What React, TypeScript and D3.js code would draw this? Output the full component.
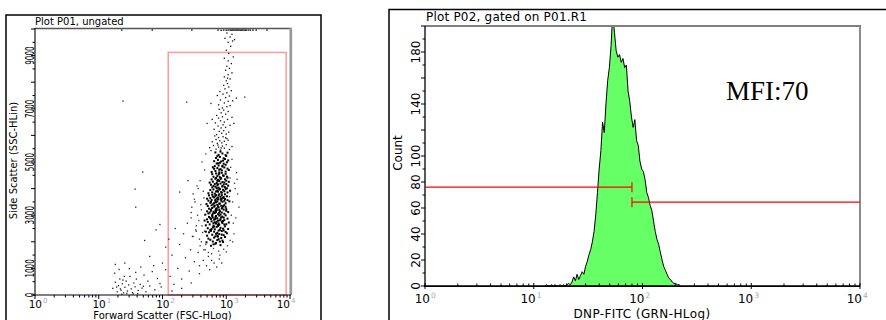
import React from "react";
import * as d3 from "d3";

// ---------------- Plot P01 data: events as [log10(FSC) x 100, SSC] ----------------
const coreEvents: [number, number][] = [
  [276,1850],[283,1925],[291,1875],[279,2010],[286,2065],[295,1990],[272,2120],[281,2155],[288,2095],[298,2180],[284,1960],[292,2140],[275,2075],[287,2195],[280,1905],[294,2045],[269,1980],[290,2010],
  [270,2230],[278,2265],[283,2205],[289,2290],[296,2250],[301,2320],[273,2355],[281,2380],[286,2335],[293,2405],[299,2370],[275,2445],[282,2470],[288,2420],[295,2495],[271,2510],[279,2545],[285,2560],[291,2525],[298,2580],[284,2300],[277,2480],[287,2595],[293,2270],[276,2410],[290,2450],[281,2570],[296,2430],[268,2380],[303,2480],[286,2230],
  [268,2620],[274,2655],[280,2610],[284,2685],[289,2640],[294,2705],[300,2660],[304,2725],[271,2745],[277,2770],[282,2735],[287,2795],[293,2760],[297,2815],[270,2845],[276,2860],[281,2830],[286,2885],[291,2850],[296,2905],[302,2870],[273,2935],[278,2965],[283,2920],[289,2985],[294,2945],[299,2995],[280,2700],[285,2750],[290,2810],[275,2890],[284,2970],[288,2690],[295,2780],[279,2910],[287,2630],[266,2800],[292,2920],[283,2860],[297,2650],
  [267,3020],[272,3065],[278,3010],[282,3085],[287,3040],[293,3100],[297,3055],[303,3115],[270,3145],[276,3170],[280,3130],[285,3195],[290,3150],[296,3210],[300,3165],[273,3245],[278,3270],[284,3230],[288,3295],[293,3255],[299,3310],[271,3345],[277,3370],[281,3320],[286,3390],[292,3355],[297,3380],[279,3060],[284,3125],[289,3205],[294,3285],[282,3360],[287,3335],[274,3100],[291,3020],[300,3230],[285,3260],[276,3210],[289,3090],[283,3180],[295,3340],
  [269,3420],[275,3465],[279,3410],[284,3485],[290,3440],[294,3505],[299,3450],[305,3520],[272,3545],[277,3570],[283,3530],[287,3595],[292,3550],[298,3610],[302,3565],[275,3645],[281,3670],[285,3630],[291,3690],[295,3655],[301,3710],[273,3745],[278,3770],[283,3725],[289,3790],[293,3755],[298,3785],[281,3455],[286,3520],[291,3600],[296,3680],[284,3760],[289,3430],[276,3500],[293,3620],[279,3700],[287,3660],[283,3580],[270,3620],[297,3540],[288,3740],
  [272,3825],[278,3860],[282,3810],[287,3885],[293,3845],[297,3900],[302,3855],[306,3920],[275,3945],[280,3970],[286,3930],[290,3990],[295,3955],[301,4010],[278,4045],[283,4070],[288,4035],[294,4090],[298,4055],[303,4110],[276,4145],[282,4170],[286,4125],[291,4190],[296,4155],[284,3890],[289,3960],[294,4080],[287,4160],[280,4100],[299,3980],[292,3870],[285,4020],[300,4170],
  [274,4225],[279,4260],[285,4210],[289,4285],[294,4245],[300,4300],[304,4255],[277,4345],[283,4370],[287,4330],[292,4395],[298,4350],[302,4410],[280,4445],[286,4470],[290,4430],[295,4495],[301,4450],[278,4545],[284,4570],[288,4530],[293,4595],[299,4555],[286,4290],[291,4360],[296,4480],[289,4560],[284,4400],[297,4230],
  [277,4625],[283,4660],[289,4610],[293,4685],[299,4640],[304,4700],[281,4745],[286,4770],[291,4730],[297,4795],[302,4750],[282,4845],[288,4870],[294,4830],[299,4895],[285,4945],[290,4970],[296,4935],[301,4990],[289,4710],[294,4855],[287,4950],[279,4800],
  [281,5030],[287,5080],[292,5020],[298,5110],[303,5060],[284,5150],[290,5190],[296,5140],[300,5230],[288,5270],[294,5320],[299,5260],[283,5360],[291,5390],[295,5050],[286,5220],[302,5350],
];

const upperEvents: [number, number][] = [
  [276,5430],[284,5480],[291,5450],[297,5520],[305,5470],[288,5560],[294,5600],[280,5620],[300,5650],[286,5700],[293,5720],[309,5580],[278,5760],[290,5800],[297,5780],[284,5850],[301,5880],[288,5920],[295,5950],[282,5980],[274,5540],[303,5820],[292,5530],[299,5910],[287,5640],
  [285,6030],[293,6080],[300,6050],[289,6150],[296,6180],[304,6120],[281,6230],[292,6280],[299,6300],[287,6350],[295,6400],[306,6380],[283,6470],[297,6500],[291,6550],[302,6600],[288,6650],[294,6700],[309,6680],[285,6750],[299,6800],[292,6850],[303,6900],[296,6950],[289,6980],[312,6450],[278,6600],
  [294,7030],[301,7080],[288,7150],[306,7120],[297,7220],[303,7280],[291,7330],[310,7300],[299,7420],[305,7480],[295,7550],[301,7600],[290,7650],[308,7680],[298,7750],[304,7820],[296,7880],[302,7950],[316,7400],[286,7500],
  [300,8050],[306,8120],[297,8200],[303,8280],[309,8350],[299,8450],[305,8520],[301,8600],[308,8700],[303,8800],[297,8900],[311,8950],[302,8150],
  [304,9080],[300,9200],[307,9350],[303,9500],[310,9550],[298,9650],[306,9700],[313,9600],[301,9850],[309,9800],
];

const saturatedEvents: [number, number][] = [
  [287,9960],[292,9950],[296,9960],[300,9955],[303,9960],[306,9960],[308,9955],[310,9960],[312,9960],[314,9955],[316,9960],[318,9960],[320,9960],[322,9955],[324,9960],[326,9960],[328,9960],[330,9955],[332,9960],[335,9960],[338,9955],[342,9960],[347,9960],
  [136,9960],[184,9960],[246,9960],[364,9960],
];

const skirtEvents: [number, number][] = [
  [258,2100],[262,2600],[255,3000],[260,3400],[264,3900],[259,4300],[266,4700],[263,2350],[257,2800],[261,3200],[312,2300],[315,2900],[310,3500],[318,3800],[313,4200],[316,4600],[309,5100],[311,2700],[320,3300],[314,4000],[307,4800],[265,1700],[272,1600],[280,1750],[288,1650],[296,1720],[302,1850],[268,1900],[306,2050],[252,2450],[250,3600],[254,4100],[262,5000],[268,5300],[308,3000],[305,3700],[306,4400],[310,2000],[277,1550],[290,1500],[245,2900],[248,2200],[300,1620],[265,3650],[317,4350],[259,1850],
];

const tailEvents: [number, number][] = [
  [122,250],[126,480],[129,120],[131,350],[133,600],[135,180],[137,420],[139,80],[141,290],[143,520],[145,150],[147,380],[149,700],[151,230],[153,90],[155,450],[157,310],[159,600],[162,170],[165,400],[168,260],[171,750],[174,120],[177,520],[180,340],[184,880],[188,200],[192,620],[196,430],[125,820],[132,960],[140,700],[148,990],[158,850],[166,1050],[170,330],[161,50],[136,30],[144,60],[154,40],[128,300],[134,230],[138,560],[126,1150],[141,1200],
  [200,1200],[205,1800],[210,2100],[212,700],[215,1500],[218,400],[220,2500],[224,1000],[227,1900],[230,600],[233,2300],[236,1400],[239,2700],[242,900],[244,1700],[247,2200],[250,1250],[253,2600],[256,1600],[258,800],[261,2000],[264,1300],[266,2400],[269,1100],[272,1450],[274,950],[277,1300],[281,1200],[285,1050],[289,1350],[293,1200],[205,950],[198,300],[215,150],[230,250],[245,450],[258,1100],[267,1700],[180,1450],[186,1100],[172,2050],[190,2450],[196,2650],
];

const outlierEvents: [number, number][] = [
  [169,4620],[157,3980],[158,3300],[138,7290],[238,7250],[276,7200],[329,7440],[227,3870],[246,3300],[240,4300],[245,3100],[251,3500],[256,4000],[253,2400],[248,3800],[270,6450],
];

// Gate R1 (FSC min/max, SSC min/max)
const gateFsc = [123, 8700];
const gateSsc = [0, 9120];

const sscTickLabels = [0, 1000, 3000, 5000, 7000, 9000];
const decades = [1, 10, 100, 1000, 10000];
const decadeExponents = ["0", "1", "2", "3", "4"];

// ---------------- Plot P02 data: histogram, 256 channels over 4 decades ----------------
const channelsPerDecade = 64;
const histStartChannel = 70;
const histCounts = [
  0, 1, 0, 0, 1, 0, 1, 0, 0, 1,
  0, 1, 0, 1, 2, 1, 3, 7, 4, 9,
  5, 8, 11, 9, 15, 19, 24, 28, 34, 42,
  55, 72, 90, 104, 126, 118, 140, 158, 168, 185,
  210, 195, 181, 176, 178, 172, 175, 168, 170, 150,
  142, 130, 122, 128, 112, 108, 96, 90, 88, 82,
  72, 68, 62, 58, 50, 42, 36, 32, 26, 20,
  15, 12, 9, 6, 5, 3, 2, 2, 1, 1, 0,
];
const countTickLabels = [0, 20, 40, 60, 80, 100, 140, 180];
const markerBoundary = 80;
const markerLevels = [76, 64.5];
const mfiLabel = "MFI:70";

export default function App() {
  const xL = d3.scaleLog().domain([1, 10000]).range([35, 290]);
  const yL = d3.scaleLinear().domain([0, 10000]).range([295, 29]);
  const xR = d3.scaleLog().domain([1, 10000]).range([425, 860]);
  const yR = d3.scaleLinear().domain([0, 200]).range([286, 26]);

  const fsc = (v: number) => Math.pow(10, v / 100);
  const logTicks = xL.ticks();
  const isDecade = (t: number) => decades.includes(t);

  const histPts: [number, number][] = histCounts.map((c, i) => [
    Math.pow(10, (histStartChannel + i + 0.5) / channelsPerDecade),
    c,
  ]);
  const area = d3
    .area<[number, number]>()
    .x((d) => xR(d[0]))
    .y0(yR(0))
    .y1((d) => yR(d[1]));
  const line = d3
    .line<[number, number]>()
    .x((d) => xR(d[0]))
    .y((d) => yR(d[1]));

  const dot = (pts: [number, number][], s: number, fill: string, key: string) =>
    pts.map((p, i) => (
      <rect
        key={key + i}
        x={xL(fsc(p[0])) - s / 2}
        y={yL(p[1]) - s / 2}
        width={s}
        height={s}
        fill={fill}
      />
    ));

  const font = "DejaVu Sans, Verdana, sans-serif";
  const mx = xR(markerBoundary);

  return (
    <svg
      width={886}
      height={320}
      style={{ position: "absolute", left: 0, top: 0, background: "#fff" }}
      fontFamily={font}
    >
      <rect x={0} y={0} width={886} height={320} fill="#fff" />
      <defs>
        <clipPath id="clipL">
          <rect x={35} y={28} width={256} height={268} />
        </clipPath>
        <clipPath id="clipR">
          <rect x={425} y={26} width={435} height={261} />
        </clipPath>
      </defs>

      {/* ---------- Left panel ---------- */}
      <rect x={6} y={15} width={315} height={330} fill="none" stroke="#000" strokeWidth={1.5} />
      <text x={35} y={25} fontSize={10} fill="#000">Plot P01, ungated</text>

      <g clipPath="url(#clipL)">
        <rect
          x={xL(gateFsc[0])}
          y={yL(gateSsc[1])}
          width={xL(gateFsc[1]) - xL(gateFsc[0])}
          height={yL(gateSsc[0]) - yL(gateSsc[1])}
          fill="none"
          stroke="#ff9a9a"
          strokeWidth={1.5}
        />
        {dot(tailEvents, 1.3, "#222", "t")}
        {dot(outlierEvents, 1.3, "#222", "o")}
        {dot(skirtEvents, 1.3, "#333", "s")}
        {dot(upperEvents, 1.3, "#111", "u")}
        {dot(coreEvents, 2, "#000", "c")}
        {dot(saturatedEvents, 1.5, "#222", "x")}
      </g>

      {/* frame */}
      <line x1={35} x2={292} y1={28.5} y2={28.5} stroke="#555" strokeWidth={1.3} />
      <line x1={290.8} x2={290.8} y1={28} y2={295} stroke="#999" strokeWidth={2.7} />
      <line x1={35} x2={35} y1={28} y2={295.5} stroke="#000" strokeWidth={1.1} />
      <line x1={34.5} x2={291} y1={295} y2={295} stroke="#000" strokeWidth={1.1} />

      {/* left y ticks */}
      {d3.range(0, 10001, 500).map((v) => (
        <line key={"ly" + v} x1={v % 1000 === 0 ? 31 : 32.5} x2={35} y1={yL(v)} y2={yL(v)} stroke="#000" strokeWidth={1} />
      ))}
      {sscTickLabels.map((v) => (
        <text
          key={"lyl" + v}
          transform={`translate(33.5,${yL(v)}) rotate(-90)`}
          textAnchor="middle"
          fontSize={11.5}
          textLength={String(v).length * 4.6}
          lengthAdjust="spacingAndGlyphs"
        >
          {v}
        </text>
      ))}
      {/* left x ticks */}
      {logTicks.map((t) => (
        <line key={"lx" + t} x1={xL(t)} x2={xL(t)} y1={295} y2={isDecade(t) ? 299 : 297.5} stroke="#000" strokeWidth={1} />
      ))}
      {decades.map((t, i) => {
        const x = xL(t);
        const anchorEnd = i === decades.length - 1;
        const labelEnd = anchorEnd ? x : x + 7;
        return (
          <g key={"lxl" + t}>
            <text x={labelEnd} y={308} fontSize={10.5} textAnchor="end">10</text>
            <text x={labelEnd + 1} y={303} fontSize={7} fill="#aaa">{decadeExponents[i]}</text>
          </g>
        );
      })}
      <text transform="translate(17,160.5) rotate(-90)" textAnchor="middle" fontSize={10}>
        Side Scatter (SSC-HLin)
      </text>
      <text x={162.5} y={318.5} textAnchor="middle" fontSize={10}>
        Forward Scatter (FSC-HLog)
      </text>

      {/* ---------- Right panel ---------- */}
      <rect x={389} y={9.5} width={520} height={330} fill="none" stroke="#000" strokeWidth={1.5} />
      <text x={426} y={21} fontSize={12} letterSpacing={0.2}>Plot P02, gated on P01.R1</text>

      <g clipPath="url(#clipR)">
        <path d={area(histPts) || ""} fill="#66ff66" />
        <path d={line(histPts) || ""} fill="none" stroke="#000" strokeWidth={1} />
      </g>

      <line x1={425} x2={861} y1={26} y2={26} stroke="#808080" strokeWidth={1.8} />
      <line x1={860} x2={860} y1={25} y2={286} stroke="#808080" strokeWidth={1.8} />
      <line x1={425} x2={425} y1={26} y2={287} stroke="#000" strokeWidth={1.3} />
      <line x1={424} x2={860} y1={286.2} y2={286.2} stroke="#000" strokeWidth={1.7} />

      {/* markers */}
      <line x1={xR(1)} x2={mx} y1={yR(markerLevels[0])} y2={yR(markerLevels[0])} stroke="#ff0000" strokeWidth={1.2} />
      <line x1={mx} x2={mx} y1={yR(markerLevels[0]) - 5} y2={yR(markerLevels[0]) + 5} stroke="#ff0000" strokeWidth={1.2} />
      <line x1={mx} x2={xR(10000)} y1={yR(markerLevels[1])} y2={yR(markerLevels[1])} stroke="#ff0000" strokeWidth={1.2} />
      <line x1={mx} x2={mx} y1={yR(markerLevels[1]) - 5} y2={yR(markerLevels[1]) + 5} stroke="#ff0000" strokeWidth={1.2} />

      <text x={726} y={100} fontSize={27} fontFamily="Liberation Serif, Times New Roman, serif">
        {mfiLabel}
      </text>

      {/* right y ticks */}
      {d3.range(0, 201, 10).map((v) => (
        <line key={"ry" + v} x1={v % 20 === 0 ? 421 : 422.5} x2={425} y1={yR(v)} y2={yR(v)} stroke="#000" strokeWidth={1} />
      ))}
      {countTickLabels.map((v) => (
        <text key={"ryl" + v} transform={`translate(419.5,${yR(v)}) rotate(-90)`} textAnchor="middle" fontSize={12}>
          {v}
        </text>
      ))}
      {/* right x ticks */}
      {logTicks.map((t) => (
        <line key={"rx" + t} x1={xR(t)} x2={xR(t)} y1={isDecade(t) ? 289 : 286} y2={isDecade(t) ? 283 : 283.5} stroke="#000" strokeWidth={1} />
      ))}
      {decades.map((t, i) => {
        const x = xR(t);
        const labelEnd = i === 0 ? x + 5 : x + 2;
        return (
          <g key={"rxl" + t}>
            <text x={labelEnd} y={302.5} fontSize={12} textAnchor="end">10</text>
            <text x={labelEnd + 1} y={297.5} fontSize={7.5} fill="#aaa">{decadeExponents[i]}</text>
          </g>
        );
      })}
      <text transform="translate(402,153) rotate(-90)" textAnchor="middle" fontSize={12}>
        Count
      </text>
      <text x={642} y={318} textAnchor="middle" fontSize={12} letterSpacing={0.4}>
        DNP-FITC (GRN-HLog)
      </text>
    </svg>
  );
}
